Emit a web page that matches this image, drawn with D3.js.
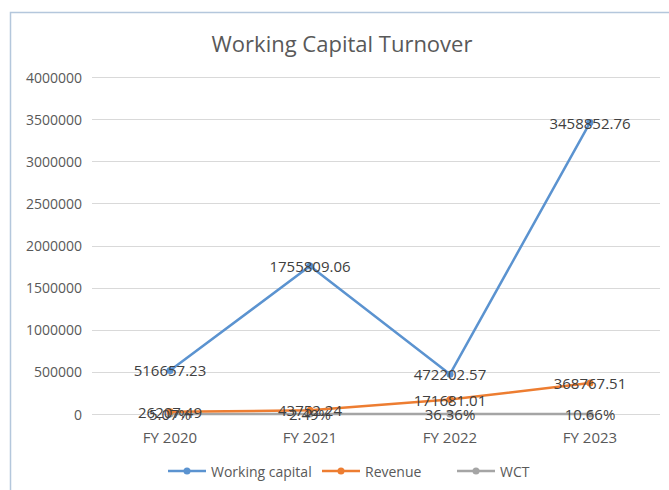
<!DOCTYPE html>
<html>
<head>
<meta charset="utf-8">
<script src="https://cdn.jsdelivr.net/npm/d3@7"></script>
<style>
  body { margin: 0; background: #fff; }
  svg { font-family: "Open Sans", "Liberation Sans", sans-serif; }
  .y-label { fill: #595959; font-size: 14px; }
  .x-label { fill: #595959; font-size: 15px; }
  .data-label { fill: #404040; font-size: 15px; }
  .legend-text { fill: #595959; font-size: 14px; }
</style>
</head>
<body>
<script>
var categories = ["FY 2020", "FY 2021", "FY 2022", "FY 2023"];
var workingCapital = [516657.23, 1755809.06, 472202.57, 3458852.76];
var revenue = [26207.49, 43752.24, 171681.01, 368767.51];
var wct = [0.0507, 0.0249, 0.3636, 0.1066];
var yTicks = [0, 500000, 1000000, 1500000, 2000000, 2500000, 3000000, 3500000, 4000000];

var width = 669, height = 490;

var series = [
    {name: "Working capital", color: "#5b93d0", values: workingCapital, fmt: function(v) { return d3.format(".2f")(v); }},
    {name: "Revenue", color: "#ed7d31", values: revenue, fmt: function(v) { return d3.format(".2f")(v); }},
    {name: "WCT", color: "#a5a5a5", values: wct, fmt: function(v) { return d3.format(".2%")(v); }}
];

var svg = d3.select("body").append("svg")
    .attr("width", width)
    .attr("height", height);

// chart border
svg.append("path")
    .attr("d", "M10.5," + height + "V12.5H" + width)
    .attr("fill", "none")
    .attr("stroke", "#b4c7dc")
    .attr("stroke-width", 1.5);

var xScale = d3.scaleBand()
    .domain(categories)
    .range([100, 660]);

var yScale = d3.scaleLinear()
    .domain([0, 4000000])
    .range([414, 77]);

function cx(d, i) { return xScale(categories[i]) + xScale.bandwidth() / 2; }

svg.append("g")
    .selectAll("line")
    .data(yTicks)
    .enter()
    .append("line")
    .attr("x1", 92)
    .attr("x2", 660)
    .attr("y1", function(d) { return Math.round(yScale(d)) + 0.5; })
    .attr("y2", function(d) { return Math.round(yScale(d)) + 0.5; })
    .attr("stroke", "#d9d9d9")
    .attr("stroke-width", 1);

svg.append("g")
    .selectAll("text")
    .data(yTicks)
    .enter()
    .append("text")
    .attr("class", "y-label")
    .attr("x", 82)
    .attr("y", function(d) { return yScale(d); })
    .attr("text-anchor", "end")
    .attr("dominant-baseline", "central")
    .text(function(d) { return d; });

svg.append("g")
    .selectAll("text")
    .data(categories)
    .enter()
    .append("text")
    .attr("class", "x-label")
    .attr("x", function(d) { return xScale(d) + xScale.bandwidth() / 2; })
    .attr("y", 437)
    .attr("text-anchor", "middle")
    .attr("dominant-baseline", "central")
    .text(function(d) { return d; });

svg.append("text")
    .attr("x", 342)
    .attr("y", 43)
    .attr("text-anchor", "middle")
    .attr("dominant-baseline", "central")
    .attr("fill", "#595959")
    .style("font-size", "22px")
    .text("Working Capital Turnover");

var line = d3.line()
    .x(cx)
    .y(function(d) { return yScale(d); });

// WCT at the bottom, working capital on top
series.slice().reverse().forEach(function(s) {
    svg.append("path")
        .attr("d", line(s.values))
        .attr("fill", "none")
        .attr("stroke", s.color)
        .attr("stroke-width", 2.5)
        .attr("stroke-linejoin", "round");
    svg.selectAll(null)
        .data(s.values)
        .enter()
        .append("circle")
        .attr("cx", cx)
        .attr("cy", function(d) { return yScale(d); })
        .attr("r", 3.5)
        .attr("fill", s.color);
});

series.forEach(function(s) {
    svg.selectAll(null)
        .data(s.values)
        .enter()
        .append("text")
        .attr("class", "data-label")
        .attr("x", cx)
        .attr("y", function(d) { return yScale(d); })
        .attr("text-anchor", "middle")
        .attr("dominant-baseline", "central")
        .text(s.fmt);
});

// legend
var legendX = [168, 322, 457];
var legend = svg.selectAll(".legend")
    .data(series)
    .enter()
    .append("g")
    .attr("transform", function(d, i) { return "translate(" + legendX[i] + ",471)"; });

legend.append("line")
    .attr("x1", 0)
    .attr("x2", 38)
    .attr("stroke", function(d) { return d.color; })
    .attr("stroke-width", 2.5);

legend.append("circle")
    .attr("cx", 19)
    .attr("r", 3.5)
    .attr("fill", function(d) { return d.color; });

legend.append("text")
    .attr("class", "legend-text")
    .attr("x", 43)
    .attr("dominant-baseline", "central")
    .text(function(d) { return d.name; });
</script>
</body>
</html>
